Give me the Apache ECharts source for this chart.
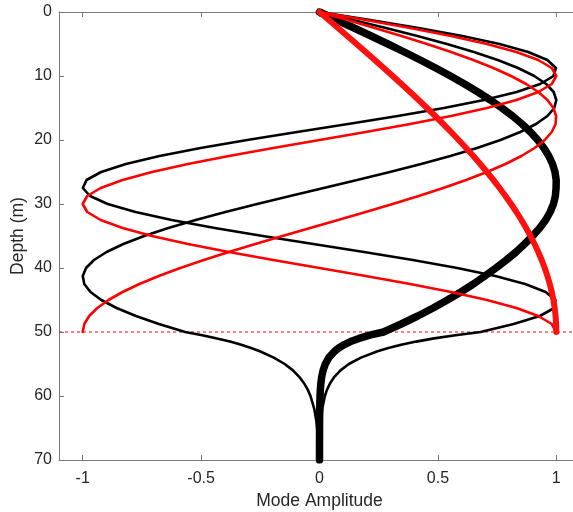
<!DOCTYPE html>
<html>
<head>
<meta charset="utf-8">
<script src="https://cdn.jsdelivr.net/npm/echarts@6/dist/echarts.min.js"></script>
<style>
  html, body { margin: 0; padding: 0; background: #fff; }
  #chart { width: 573px; height: 512px; }
</style>
</head>
<body>
<div id="chart"></div>
<script>
// Depth samples (m): water column 0-50 every 1.25 m, bottom tail 50-70
const depthWater = [0, 1.25, 2.5, 3.75, 5, 6.25, 7.5, 8.75, 10, 11.25, 12.5, 13.75, 15, 16.25, 17.5, 18.75, 20, 21.25, 22.5, 23.75, 25, 26.25, 27.5, 28.75, 30, 31.25, 32.5, 33.75, 35, 36.25, 37.5, 38.75, 40, 41.25, 42.5, 43.75, 45, 46.25, 47.5, 48.75, 50];
const depthTail = [50.5, 51, 51.5, 52, 52.5, 53, 54, 55, 56, 57, 58, 59, 60, 62, 64, 66, 70];

// Red modes (water column only)
const redMode1 = [0, 0.0393, 0.0785, 0.1175, 0.1564, 0.1951, 0.2334, 0.2714, 0.3090, 0.3461, 0.3827, 0.4187, 0.4540, 0.4886, 0.5225, 0.5556, 0.5878, 0.6191, 0.6494, 0.6788, 0.7071, 0.7343, 0.7604, 0.7853, 0.8090, 0.8315, 0.8526, 0.8725, 0.8910, 0.9081, 0.9239, 0.9382, 0.9511, 0.9625, 0.9724, 0.9808, 0.9877, 0.9931, 0.9969, 0.9992, 1.0];
const redMode2 = [0, 0.1175, 0.2334, 0.3461, 0.4540, 0.5556, 0.6494, 0.7343, 0.8090, 0.8725, 0.9239, 0.9625, 0.9877, 0.9992, 0.9969, 0.9808, 0.9511, 0.9081, 0.8526, 0.7853, 0.7071, 0.6191, 0.5225, 0.4187, 0.3090, 0.1951, 0.0785, -0.0393, -0.1564, -0.2714, -0.3827, -0.4886, -0.5878, -0.6788, -0.7604, -0.8315, -0.8910, -0.9382, -0.9724, -0.9931, -1.0];
const redMode3 = [0, 0.1951, 0.3827, 0.5556, 0.7071, 0.8315, 0.9239, 0.9808, 1.0, 0.9808, 0.9239, 0.8315, 0.7071, 0.5556, 0.3827, 0.1951, 0, -0.1951, -0.3827, -0.5556, -0.7071, -0.8315, -0.9239, -0.9808, -1.0, -0.9808, -0.9239, -0.8315, -0.7071, -0.5556, -0.3827, -0.1951, 0, 0.1951, 0.3827, 0.5556, 0.7071, 0.8315, 0.9239, 0.9808, 1.0];

// Black modes: water column values and bottom tail values
const blackMode1 = [0, 0.0732, 0.1460, 0.2180, 0.2888, 0.3582, 0.4255, 0.4906, 0.5530, 0.6124, 0.6687, 0.7214, 0.7702, 0.8150, 0.8551, 0.8908, 0.9215, 0.9474, 0.9682, 0.9841, 0.9944, 0.9995, 0.999, 0.996, 0.988, 0.974, 0.955, 0.930, 0.900, 0.866, 0.830, 0.789, 0.745, 0.698, 0.650, 0.597, 0.540, 0.480, 0.415, 0.345, 0.27];
const blackMode1Tail = [0.212, 0.167, 0.131, 0.103, 0.081, 0.064, 0.0396, 0.0245, 0.0151, 0.0094, 0.0058, 0.0036, 0.0022, 0.0009, 0.0003, 0.0001, 0];
const blackMode2 = [0, 0.1415, 0.2802, 0.4133, 0.5380, 0.6518, 0.7526, 0.8383, 0.9069, 0.9573, 0.9887, 1.0, 0.9912, 0.9624, 0.9143, 0.8478, 0.7642, 0.6652, 0.5527, 0.4292, 0.2970, 0.1589, 0.0176, -0.1241, -0.2633, -0.3972, -0.5229, -0.6382, -0.7408, -0.8283, -0.8991, -0.9522, -0.9859, -0.9997, -0.9933, -0.9670, -0.9213, -0.8569, -0.7752, -0.6781, -0.5672];
const blackMode2Tail = [-0.495, -0.433, -0.378, -0.330, -0.289, -0.252, -0.193, -0.147, -0.112, -0.0857, -0.0654, -0.0499, -0.0381, -0.0222, -0.0129, -0.0075, -0.0026];
const blackMode3 = [0, 0.2141, 0.4183, 0.6029, 0.7599, 0.8812, 0.9622, 0.9982, 0.9880, 0.9320, 0.8328, 0.6950, 0.5251, 0.3305, 0.1208, -0.0946, -0.3054, -0.5022, -0.6755, -0.8176, -0.9220, -0.9837, -0.9994, -0.9689, -0.8944, -0.7768, -0.6241, -0.4421, -0.2393, -0.0264, 0.1882, 0.3941, 0.5817, 0.7424, 0.8684, 0.9548, 0.9963, 0.9917, 0.93, 0.82, 0.68];
const blackMode3Tail = [0.574, 0.484, 0.408, 0.345, 0.291, 0.245, 0.175, 0.124, 0.0884, 0.063, 0.0448, 0.0319, 0.0227, 0.0115, 0.0058, 0.0030, 0.0008];

// Interface depth and axis ticks
const interfaceDepth = 50;
const xTickValues = [-1, -0.5, 0, 0.5, 1];
const xRange = [-1.1, 1.1];
const yTickValues = [0, 10, 20, 30, 40, 50, 60, 70];

function pairs(amps, depths) {
  return amps.map((a, i) => [a, depths[i]]);
}
function fullPairs(ampsW, ampsT) {
  return pairs(ampsW, depthWater).concat(pairs(ampsT, depthTail));
}

const FONT = 'Liberation Sans, Arial, Helvetica, sans-serif';
const AXIS_COLOR = '#7a7a7a';
const TEXT_COLOR = '#262626';

function lineSeries(name, data, color, width, z) {
  return {
    name, type: 'line', data, smooth: false, symbol: 'none', showSymbol: false,
    lineStyle: { color, width, cap: 'round', join: 'round' },
    z, silent: true, animation: false
  };
}

const chart = echarts.init(document.getElementById('chart'), null, { renderer: 'canvas' });
chart.setOption({
  animation: false,
  backgroundColor: '#ffffff',
  grid: { left: 59, right: -7, top: 12, bottom: 52, containLabel: false, outerBoundsMode: 'none' },
  xAxis: [
    {
      type: 'value', position: 'bottom', min: xRange[0], max: xRange[1],
      name: 'Mode Amplitude', nameLocation: 'middle', nameGap: 32, nameMoveOverlap: false,
      nameTextStyle: { color: TEXT_COLOR, fontSize: 17.5, fontFamily: FONT },
      axisLine: { show: true, onZero: false, lineStyle: { color: AXIS_COLOR, width: 1 } },
      axisTick: { show: true, inside: true, length: 5, customValues: xTickValues, lineStyle: { color: AXIS_COLOR } },
      axisLabel: { show: true, customValues: xTickValues, margin: 11, color: TEXT_COLOR, fontSize: 16, fontFamily: FONT,
        formatter: v => String(v) },
      splitLine: { show: false }
    },
    {
      type: 'value', position: 'top', min: xRange[0], max: xRange[1],
      axisLine: { show: true, onZero: false, lineStyle: { color: AXIS_COLOR, width: 1 } },
      axisTick: { show: true, inside: true, length: 5, customValues: xTickValues, lineStyle: { color: AXIS_COLOR } },
      axisLabel: { show: false },
      splitLine: { show: false }
    }
  ],
  yAxis: {
    type: 'value', inverse: true, min: 0, max: 70, interval: 10,
    name: 'Depth (m)', nameLocation: 'middle', nameGap: 32, nameRotate: 90, nameMoveOverlap: false,
    nameTextStyle: { color: TEXT_COLOR, fontSize: 17.5, fontFamily: FONT },
    axisLine: { show: true, onZero: false, lineStyle: { color: AXIS_COLOR, width: 1 } },
    axisTick: { show: true, inside: true, length: 5, lineStyle: { color: AXIS_COLOR } },
    axisLabel: { show: true, margin: 7, color: TEXT_COLOR, fontSize: 16, fontFamily: FONT,
      customValues: yTickValues },
    splitLine: { show: false }
  },
  series: [
    {
      name: 'interface', type: 'line', data: [[xRange[0], interfaceDepth], [xRange[1], interfaceDepth]],
      symbol: 'none', lineStyle: { color: '#ff0000', width: 1, type: [3, 3] }, z: 1, silent: true
    },
    lineSeries('black2', fullPairs(blackMode2, blackMode2Tail), '#000000', 2.6, 2),
    lineSeries('black3', fullPairs(blackMode3, blackMode3Tail), '#000000', 2.6, 2),
    lineSeries('black1', fullPairs(blackMode1, blackMode1Tail), '#000000', 7.5, 3),
    lineSeries('red2', pairs(redMode2, depthWater), '#ff0000', 2.6, 4),
    lineSeries('red3', pairs(redMode3, depthWater), '#ff0000', 2.6, 4),
    lineSeries('red1', pairs(redMode1, depthWater), '#ff1010', 6, 5)
  ]
});
</script>
</body>
</html>
